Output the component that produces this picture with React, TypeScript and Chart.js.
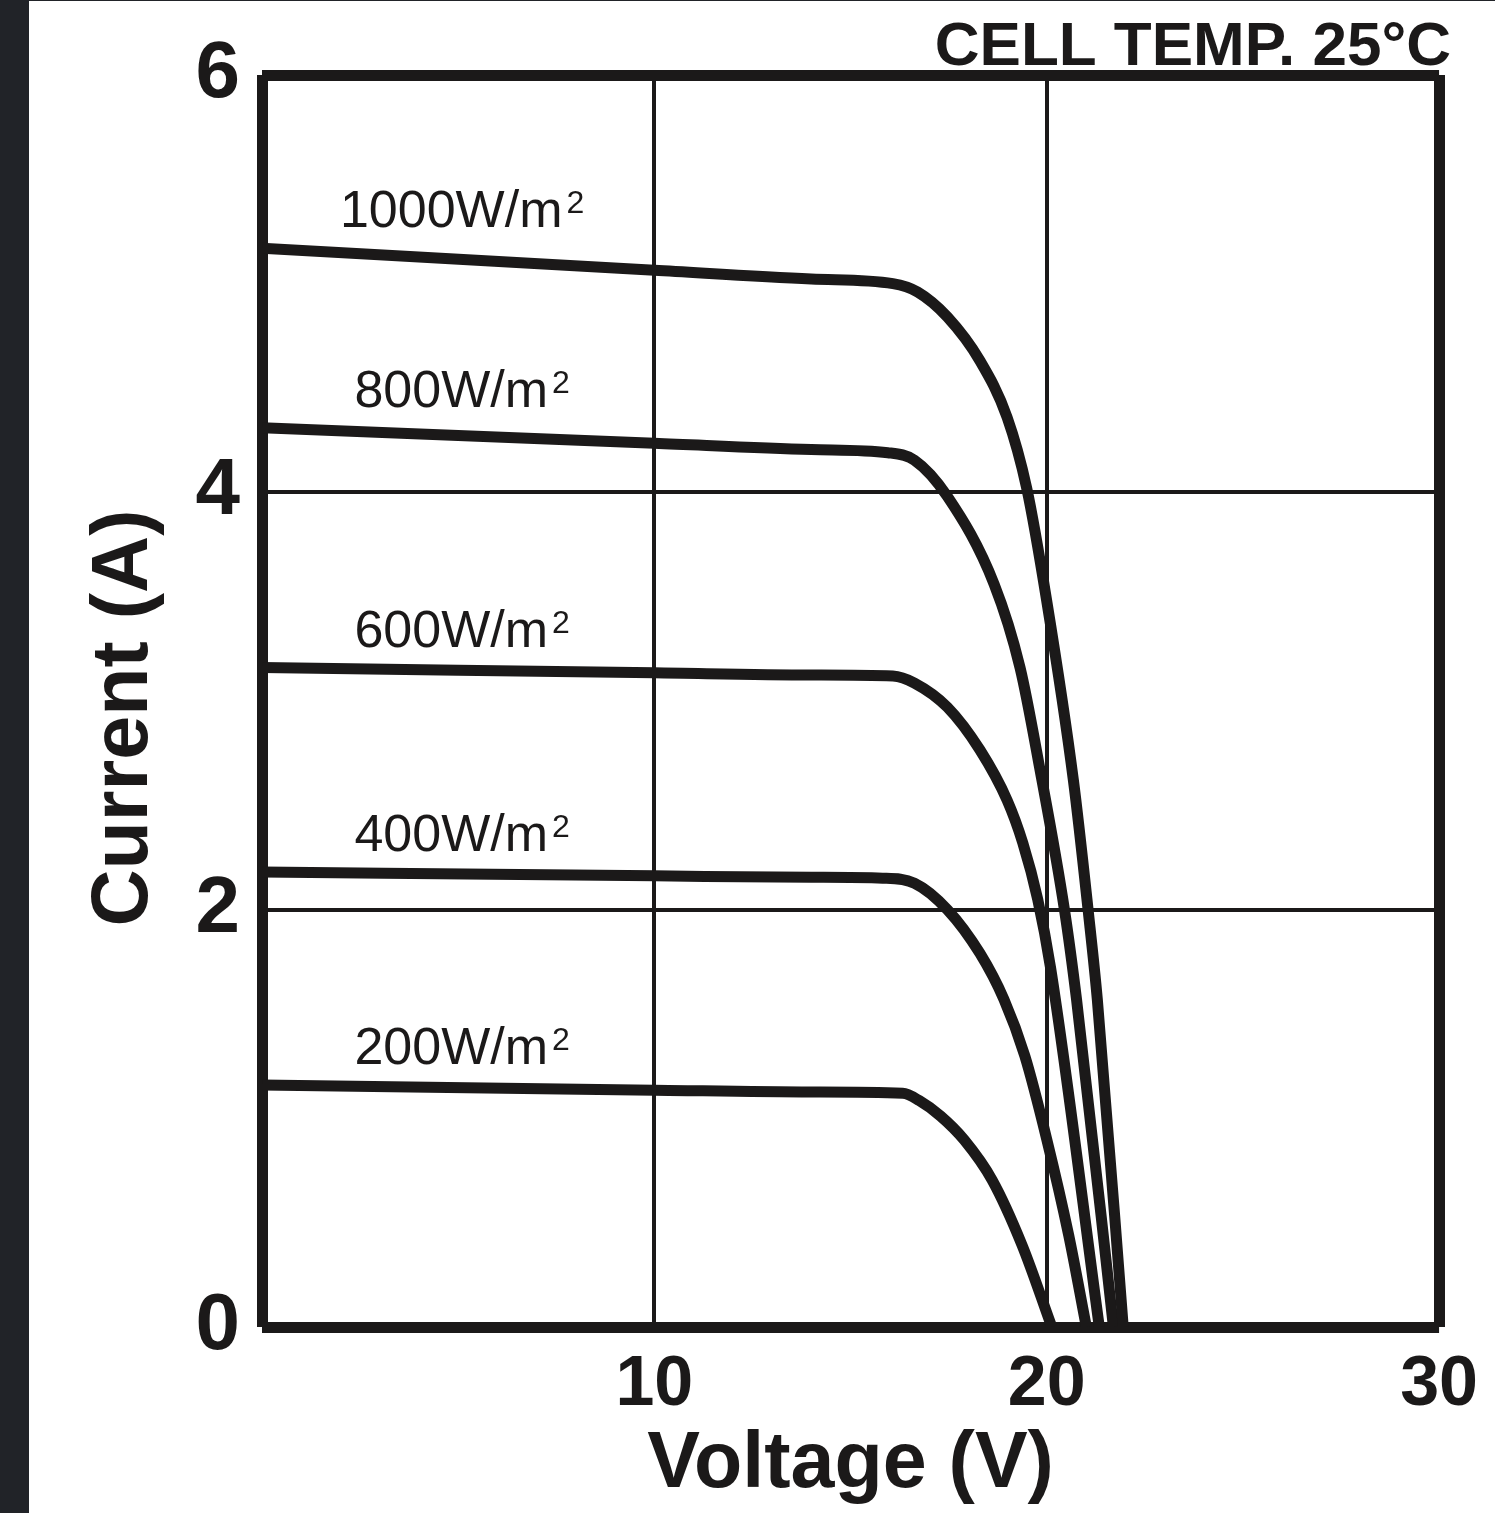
import React, { useEffect, useRef } from 'react';
import { Chart, registerables } from 'chart.js';

Chart.register(...registerables);

// ---- data ----
const seriesLabels = ['1000W/m²', '800W/m²', '600W/m²', '400W/m²', '200W/m²'];

const v1000 = [0, 10, 14, 16.08, 16.71, 17.47, 18.3, 18.99, 19.49, 20.0, 20.68, 21.06, 21.29, 21.95];
const i1000 = [5.17, 5.064, 5.022, 5.0, 4.96, 4.84, 4.63, 4.36, 4.02, 3.48, 2.62, 1.99, 1.57, 0];

const v800 = [0, 10, 14, 15.95, 16.63, 17.47, 18.66, 19.32, 19.82, 20.46, 20.76, 21.7];
const i800 = [4.31, 4.235, 4.205, 4.19, 4.154, 3.98, 3.56, 3.16, 2.68, 1.99, 1.57, 0];

const v600 = [0, 10, 14, 16.08, 16.63, 17.47, 18.3, 18.99, 19.39, 19.77, 20.1, 21.34];
const i600 = [3.16, 3.135, 3.125, 3.12, 3.086, 2.97, 2.765, 2.525, 2.32, 2.05, 1.72, 0];

const v400 = [0, 10, 14, 15.82, 16.63, 17.47, 18.3, 18.91, 19.44, 20.0, 20.56, 21.01];
const i400 = [2.18, 2.162, 2.155, 2.151, 2.127, 2.0, 1.79, 1.57, 1.3, 0.9, 0.44, 0];

const v200 = [0, 10, 14, 16.33, 16.75, 17.3, 17.9, 18.61, 19.37, 20.13];
const i200 = [1.16, 1.135, 1.126, 1.12, 1.085, 1.01, 0.896, 0.704, 0.393, 0];

const voltageSeries = [v1000, v800, v600, v400, v200];
const currentSeries = [i1000, i800, i600, i400, i200];

const xMin = 0;
const xMax = 30;
const xStep = 10;
const yMin = 0;
const yMax = 6;
const yStep = 2;

const chartTitle = 'CELL TEMP. 25°C';
const xTitle = 'Voltage (V)';
const yTitle = 'Current (A)';
const labelVoltage = 5.1; // where the irradiance labels sit along the curves

// ---- styles ----
const FONT = '"Liberation Sans", Arial, Helvetica, sans-serif';
const INK = '#1b1919';
const CANVAS_W = 1466;
const CANVAS_H = 1512;

const annotatePlugin = {
  id: 'annotate',
  afterDraw(chart: any) {
    const { ctx, chartArea, scales } = chart;
    ctx.save();
    ctx.fillStyle = INK;

    // chart title, top right
    ctx.font = `bold 62px ${FONT}`;
    ctx.textAlign = 'right';
    ctx.textBaseline = 'alphabetic';
    ctx.fillText(chartTitle, chartArea.right + 12, chartArea.top - 10);

    // y axis title
    ctx.save();
    ctx.font = `bold 79px ${FONT}`;
    ctx.textAlign = 'center';
    ctx.textBaseline = 'middle';
    ctx.translate(96, (chartArea.top + chartArea.bottom) / 2 + 17);
    ctx.rotate(-Math.PI / 2);
    ctx.fillText(yTitle, 0, 0);
    ctx.restore();

    // irradiance labels with superscript
    chart.data.datasets.forEach((ds: any, i: number) => {
      const meta = chart.getDatasetMeta(i);
      const first = meta.data[0];
      if (!first) return;
      const text: string = ds.label;
      const hasSup = text.endsWith('²');
      const base = hasSup ? text.slice(0, -1) : text;
      const gap = 4;
      ctx.font = `52px ${FONT}`;
      const wBase = ctx.measureText(base).width;
      ctx.font = `32px ${FONT}`;
      const wSup = hasSup ? ctx.measureText('2').width + gap : 0;
      const cx = scales.x.getPixelForValue(labelVoltage);
      const y = first.y - 21;
      const x0 = cx - (wBase + wSup) / 2;
      ctx.textAlign = 'left';
      ctx.textBaseline = 'alphabetic';
      ctx.font = `52px ${FONT}`;
      ctx.fillText(base, x0, y);
      if (hasSup) {
        ctx.font = `32px ${FONT}`;
        ctx.fillText('2', x0 + wBase + gap, y - 14);
      }
    });
    ctx.restore();
  },
};

export default function App() {
  const canvasRef = useRef<HTMLCanvasElement | null>(null);

  useEffect(() => {
    const canvas = canvasRef.current;
    if (!canvas) return;

    const datasets = seriesLabels.map((label, k) => ({
      label,
      data: voltageSeries[k].map((v, j) => ({ x: v, y: currentSeries[k][j] })),
      showLine: true,
      borderColor: INK,
      backgroundColor: INK,
      borderWidth: 11,
      pointRadius: 0,
      pointHoverRadius: 0,
      cubicInterpolationMode: 'monotone' as const,
      fill: false,
      borderCapStyle: 'butt' as const,
      borderJoinStyle: 'round' as const,
    }));

    const edgeWidth = (min: number, max: number) => (c: any) =>
      c.tick && (c.tick.value === min || c.tick.value === max) ? 11 : 4;

    const chart = new Chart(canvas, {
      type: 'scatter',
      data: { datasets },
      options: {
        animation: false,
        responsive: false,
        devicePixelRatio: 1,
        layout: { padding: { left: 0, top: 74, right: 50, bottom: 0 } },
        plugins: {
          legend: { display: false },
          tooltip: { enabled: false },
          title: { display: false },
        },
        scales: {
          x: {
            type: 'linear',
            min: xMin,
            max: xMax,
            ticks: {
              stepSize: xStep,
              color: INK,
              font: { family: FONT, size: 70, weight: 'bold' },
              padding: 17,
              maxRotation: 0,
              callback: (v: any) => (Number(v) === 0 ? '' : String(v)),
            },
            grid: { color: INK, lineWidth: edgeWidth(xMin, xMax), drawTicks: false },
            border: { display: false },
            title: {
              display: true,
              text: xTitle,
              color: INK,
              font: { family: FONT, size: 79, weight: 'bold' },
              padding: { top: 0, bottom: 0 },
            },
            afterFit: (s: any) => {
              s.height = 186;
            },
          },
          y: {
            type: 'linear',
            min: yMin,
            max: yMax,
            ticks: {
              stepSize: yStep,
              color: INK,
              font: { family: FONT, size: 80, weight: 'bold' },
              padding: 22,
            },
            grid: { color: INK, lineWidth: edgeWidth(yMin, yMax), drawTicks: false },
            border: { display: false },
            title: { display: false },
            afterFit: (s: any) => {
              s.width = 233;
            },
          },
        },
      },
      plugins: [annotatePlugin],
    } as any);

    return () => chart.destroy();
  }, []);

  return (
    <div
      style={{
        position: 'fixed',
        left: 0,
        top: 0,
        width: 1495,
        height: 1513,
        background: '#212328',
        overflow: 'hidden',
      }}
    >
      <div
        style={{
          position: 'absolute',
          left: 29,
          top: 1,
          width: CANVAS_W,
          height: CANVAS_H,
          background: '#ffffff',
        }}
      >
        <canvas
          ref={canvasRef}
          width={CANVAS_W}
          height={CANVAS_H}
          style={{ display: 'block', width: CANVAS_W, height: CANVAS_H }}
        />
      </div>
    </div>
  );
}
